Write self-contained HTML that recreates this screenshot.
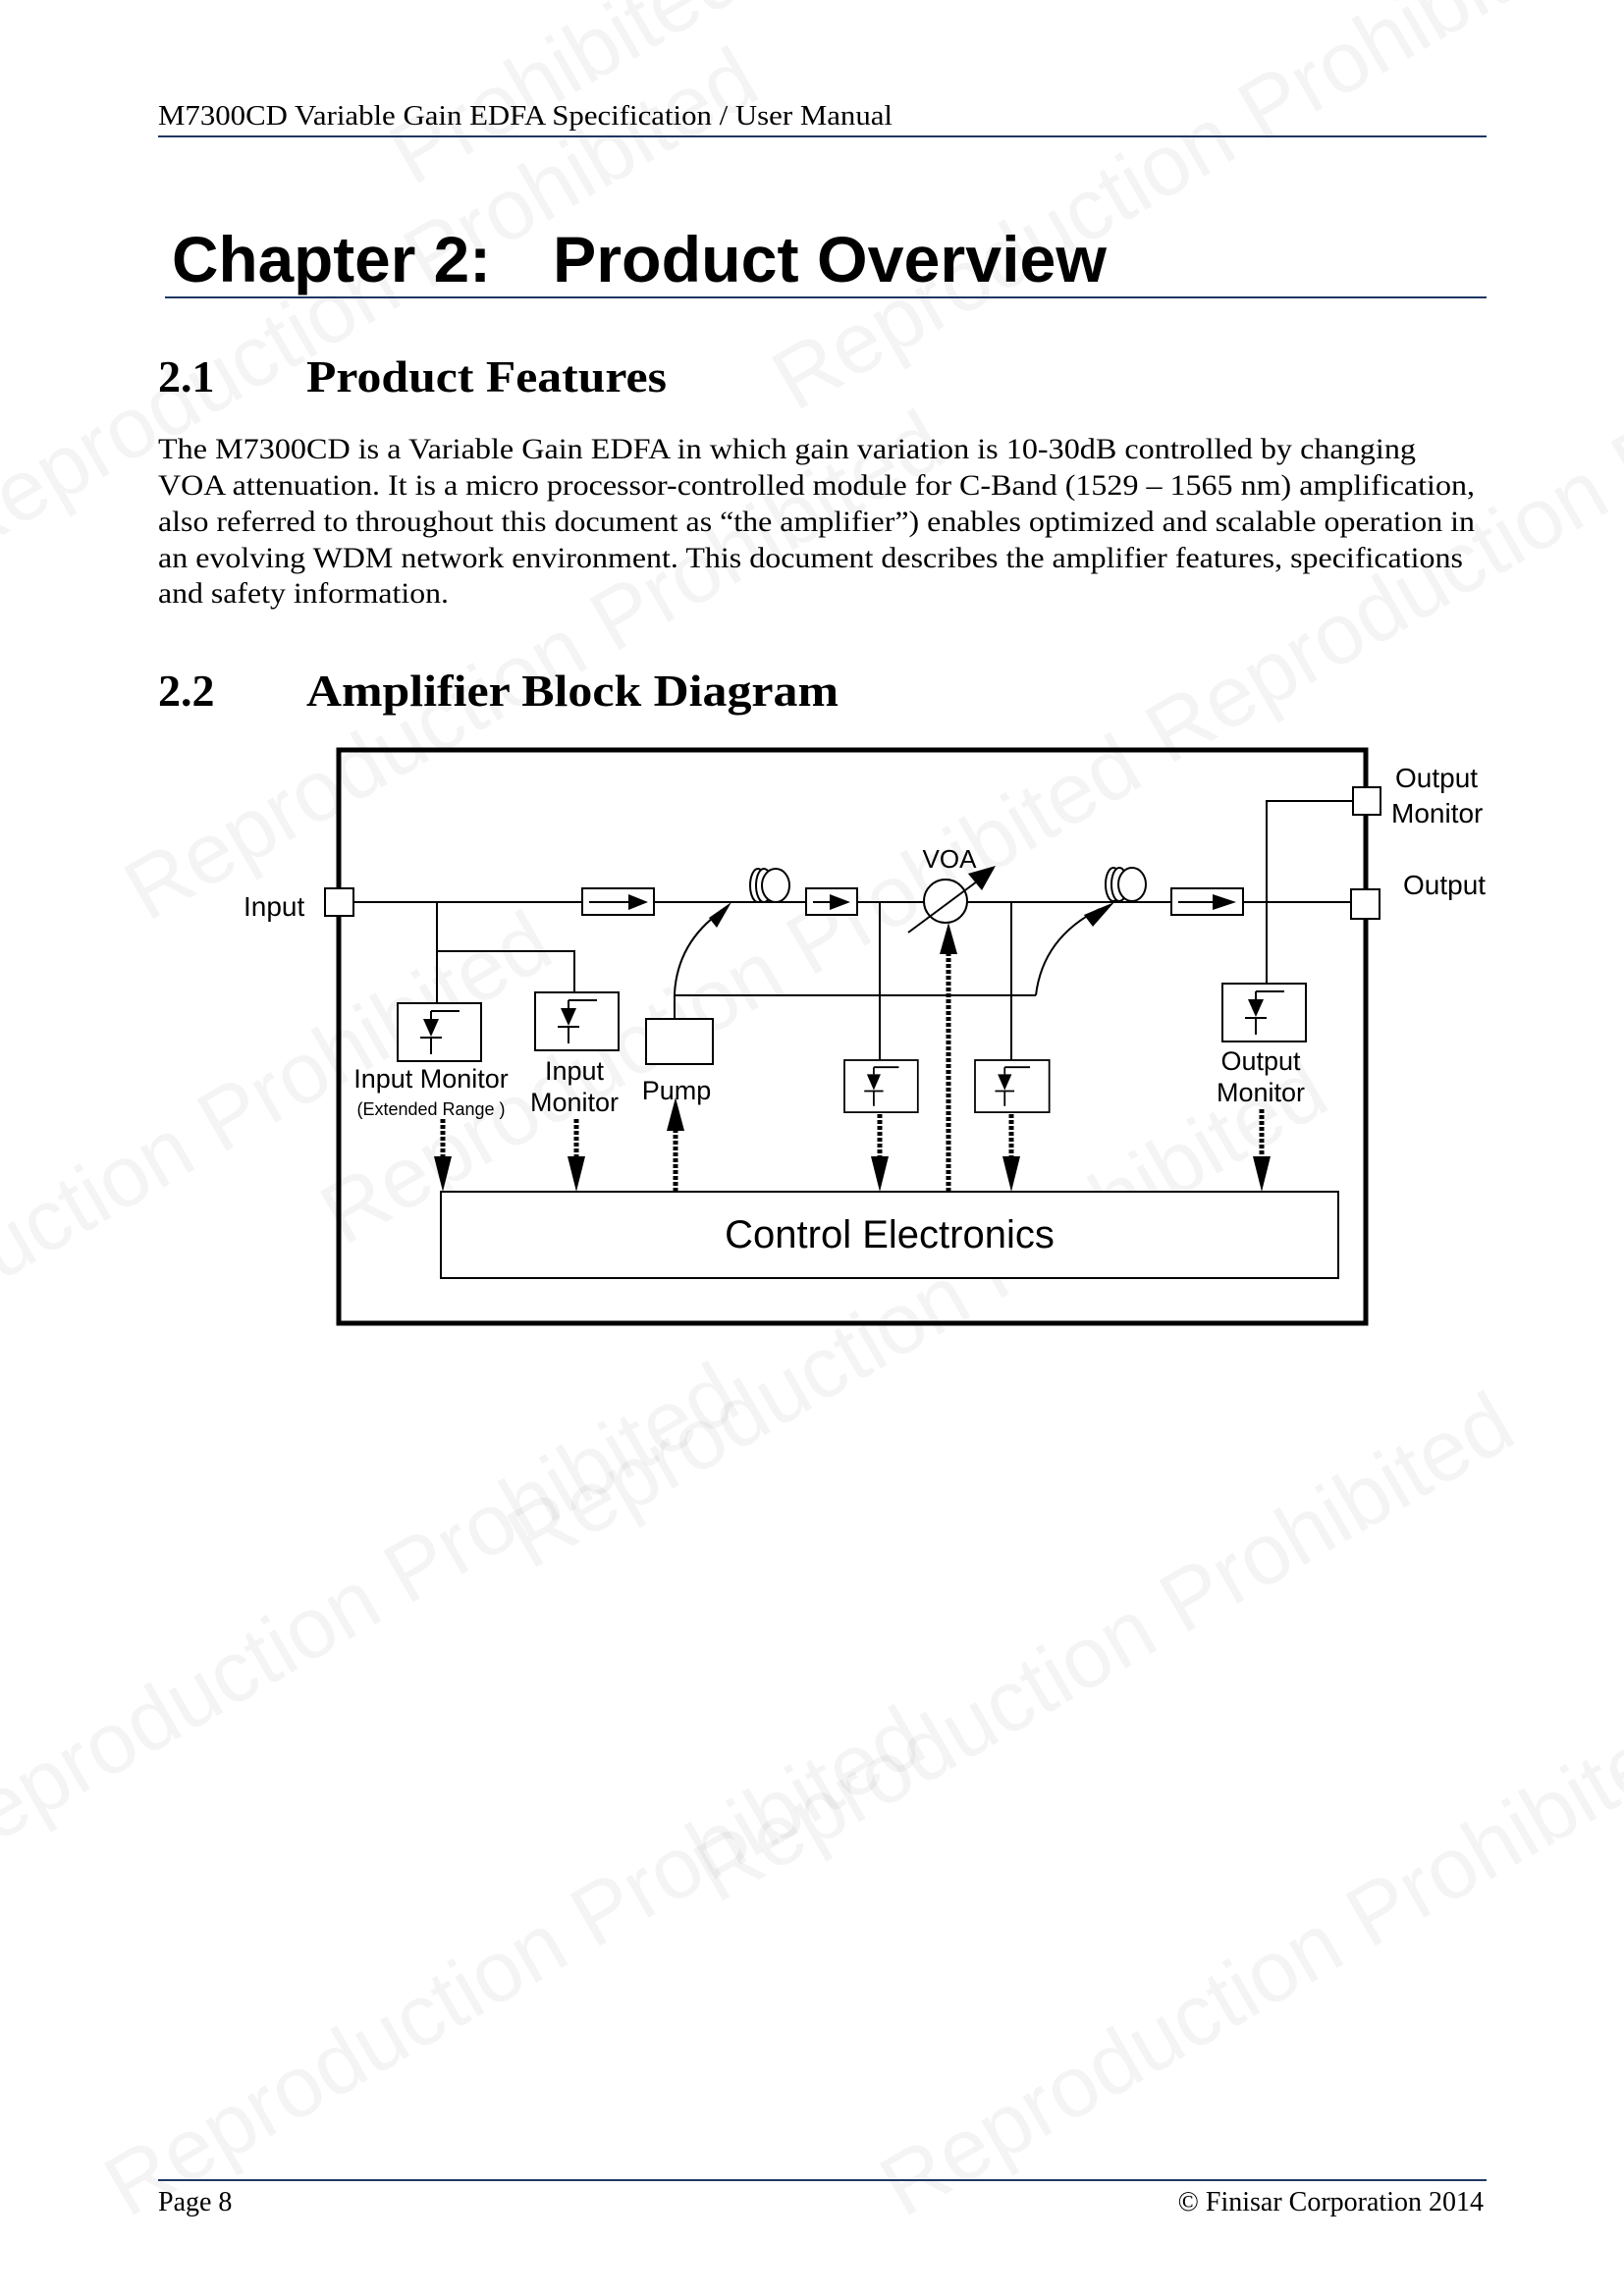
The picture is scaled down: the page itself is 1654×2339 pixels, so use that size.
<!DOCTYPE html>
<html><head><meta charset="utf-8"><style>
html,body{margin:0;padding:0;background:#fff}
svg{display:block}
</style></head><body>
<svg width="1654" height="2339" viewBox="0 0 1654 2339" xmlns="http://www.w3.org/2000/svg">
<defs>
<g id="pd">
<rect x="0" y="0" width="85" height="59" fill="#fff" stroke="#000" stroke-width="2"/>
<line x1="34" y1="8" x2="63" y2="8" stroke="#000" stroke-width="2"/>
<line x1="34" y1="8" x2="34" y2="16" stroke="#000" stroke-width="2"/>
<polygon points="26,16 42,16 34,34" fill="#000"/>
<line x1="23" y1="35" x2="45" y2="35" stroke="#000" stroke-width="2"/>
<line x1="34" y1="35" x2="34" y2="52" stroke="#000" stroke-width="2"/>
</g>
</defs>
<!-- watermarks -->
<g font-family="Liberation Sans, sans-serif" font-size="88" fill="#000" fill-opacity="0.045">
<text transform="translate(810,420) rotate(-30)">Reproduction Prohibited</text>
<text transform="translate(1190,780) rotate(-30)">Reproduction Prohibited</text>
<text transform="translate(150,940) rotate(-30)">Reproduction Prohibited</text>
<text transform="translate(-40,570) rotate(-30)">Reproduction Prohibited</text>
<text transform="translate(350,1270) rotate(-30)">Reproduction Prohibited</text>
<text transform="translate(-250,1450) rotate(-30)">Reproduction Prohibited</text>
<text transform="translate(540,1600) rotate(-30)">Reproduction Prohibited</text>
<text transform="translate(-60,1910) rotate(-30)">Reproduction Prohibited</text>
<text transform="translate(730,1940) rotate(-30)">Reproduction Prohibited</text>
<text transform="translate(130,2260) rotate(-30)">Reproduction Prohibited</text>
<text transform="translate(920,2260) rotate(-30)">Reproduction Prohibited</text>
<text transform="translate(420,190) rotate(-30)">Prohibited</text>
</g>
<!-- header -->
<text x="161" y="127" font-family="Liberation Serif, serif" font-size="28" textLength="748" lengthAdjust="spacingAndGlyphs">M7300CD Variable Gain EDFA Specification / User Manual</text>
<line x1="161" y1="139" x2="1514" y2="139" stroke="#1f3864" stroke-width="2"/>
<text x="175" y="287" font-family="Liberation Sans, sans-serif" font-weight="bold" font-size="66" textLength="325" lengthAdjust="spacingAndGlyphs">Chapter 2:</text>
<text x="563" y="287" font-family="Liberation Sans, sans-serif" font-weight="bold" font-size="66" textLength="564" lengthAdjust="spacingAndGlyphs">Product Overview</text>
<line x1="168" y1="303" x2="1514" y2="303" stroke="#1f3864" stroke-width="2"/>
<g font-family="Liberation Serif, serif" font-weight="bold" font-size="46">
<text x="161" y="399">2.1</text>
<text x="312" y="399" textLength="367" lengthAdjust="spacingAndGlyphs">Product Features</text>
<text x="161" y="719">2.2</text>
<text x="312" y="719" textLength="542" lengthAdjust="spacingAndGlyphs">Amplifier Block Diagram</text>
</g>
<g font-family="Liberation Serif, serif" font-size="30">
<text x="161" y="467" textLength="1281" lengthAdjust="spacingAndGlyphs">The M7300CD is a Variable Gain EDFA in which gain variation is 10-30dB controlled by changing</text>
<text x="161" y="504" textLength="1341" lengthAdjust="spacingAndGlyphs">VOA attenuation. It is a micro processor-controlled module for C-Band (1529 – 1565 nm) amplification,</text>
<text x="161" y="541" textLength="1341" lengthAdjust="spacingAndGlyphs">also referred to throughout this document as “the amplifier”) enables optimized and scalable operation in</text>
<text x="161" y="578" textLength="1329" lengthAdjust="spacingAndGlyphs">an evolving WDM network environment. This document describes the amplifier features, specifications</text>
<text x="161" y="614" textLength="296" lengthAdjust="spacingAndGlyphs">and safety information.</text>
</g>
<!-- diagram -->
<rect x="345" y="764" width="1046" height="584" fill="none" stroke="#000" stroke-width="5"/>
<g stroke="#000" stroke-width="2" fill="none">
<line x1="360" y1="919" x2="1376" y2="919"/>
<polyline points="1378,816 1290,816 1290,1002"/>
<line x1="445" y1="919" x2="445" y2="1022"/>
<polyline points="445,969 585,969 585,1011"/>
<line x1="896" y1="919" x2="896" y2="1080"/>
<line x1="1030" y1="919" x2="1030" y2="1080"/>
<line x1="687" y1="1014" x2="1055" y2="1014"/>
<path d="M687,1038 L687,1012 Q690,960 735,928"/>
<path d="M1055,1014 Q1062,955 1120,926"/>
<rect x="449" y="1214" width="914" height="88" fill="#fff"/>
</g>
<polygon points="722,935 745,919 730,945" fill="#000"/>
<polygon points="1104,932 1135,919 1113,944" fill="#000"/>
<!-- ports -->
<g fill="#fff" stroke="#000" stroke-width="2">
<rect x="331" y="905" width="29" height="28"/>
<rect x="1376" y="906" width="29" height="30"/>
<rect x="1378" y="802" width="28" height="28"/>
<rect x="593" y="905" width="73" height="27"/>
<rect x="821" y="905" width="52" height="27"/>
<rect x="1193" y="905" width="73" height="27"/>
<rect x="658" y="1038" width="68" height="46"/>
<ellipse cx="772" cy="902" rx="8" ry="17"/>
<ellipse cx="778" cy="902" rx="8" ry="17"/>
<ellipse cx="790" cy="902" rx="14" ry="17"/>
<ellipse cx="1134" cy="901" rx="8" ry="17"/>
<ellipse cx="1140" cy="901" rx="8" ry="17"/>
<ellipse cx="1153" cy="901" rx="14" ry="17"/>
<circle cx="963" cy="918" r="22"/>
</g>
<g stroke="#000" stroke-width="2">
<line x1="600" y1="919" x2="640" y2="919"/>
<line x1="828" y1="919" x2="845" y2="919"/>
<line x1="1200" y1="919" x2="1235" y2="919"/>
<line x1="925" y1="950" x2="995" y2="898"/>
</g>
<polygon points="640,911 660,919 640,927" fill="#000"/>
<polygon points="845,911 866,919 845,927" fill="#000"/>
<polygon points="1235,911 1259,919 1235,927" fill="#000"/>
<polygon points="986,890 1014,882 1000,907" fill="#000"/>
<!-- photodiodes -->
<use href="#pd" x="405" y="1022"/>
<use href="#pd" x="545" y="1011"/>
<use href="#pd" x="860" y="1080" transform="translate(860,1080) scale(0.88,0.9) translate(-860,-1080)"/>
<use href="#pd" x="993" y="1080" transform="translate(993,1080) scale(0.89,0.9) translate(-993,-1080)"/>
<use href="#pd" x="1245" y="1002"/>
<!-- dashed arrows -->
<g stroke="#000" stroke-width="5" stroke-dasharray="4,2">
<line x1="451" y1="1140" x2="451" y2="1180"/>
<line x1="587" y1="1140" x2="587" y2="1180"/>
<line x1="688" y1="1214" x2="688" y2="1150"/>
<line x1="896" y1="1135" x2="896" y2="1180"/>
<line x1="966" y1="1214" x2="966" y2="970"/>
<line x1="1030" y1="1135" x2="1030" y2="1180"/>
<line x1="1285" y1="1130" x2="1285" y2="1180"/>
</g>
<g fill="#000">
<polygon points="442,1178 460,1178 451,1214"/>
<polygon points="578,1178 596,1178 587,1214"/>
<polygon points="679,1152 697,1152 688,1118"/>
<polygon points="887,1178 905,1178 896,1214"/>
<polygon points="957,972 975,972 966,940"/>
<polygon points="1021,1178 1039,1178 1030,1214"/>
<polygon points="1276,1178 1294,1178 1285,1214"/>
</g>
<!-- labels -->
<g font-family="Liberation Sans, sans-serif" font-size="28" fill="#000">
<text x="248" y="933">Input</text>
<text x="1421" y="802">Output</text>
<text x="1417" y="838">Monitor</text>
<text x="1429" y="911">Output</text>
<text x="967" y="884" text-anchor="middle" font-size="26">VOA</text>
<text x="439" y="1108" text-anchor="middle" font-size="27">Input Monitor</text>
<text x="439" y="1136" text-anchor="middle" font-size="18">(Extended Range  )</text>
<text x="585" y="1100" text-anchor="middle" font-size="27">Input</text>
<text x="585" y="1132" text-anchor="middle" font-size="27">Monitor</text>
<text x="689" y="1120" text-anchor="middle" font-size="27">Pump</text>
<text x="1284" y="1090" text-anchor="middle" font-size="27">Output</text>
<text x="1284" y="1122" text-anchor="middle" font-size="27">Monitor</text>
<text x="906" y="1271" text-anchor="middle" font-size="40">Control Electronics</text>
</g>
<!-- footer -->
<line x1="161" y1="2221" x2="1514" y2="2221" stroke="#1f3864" stroke-width="2"/>
<text x="161" y="2252" font-family="Liberation Serif, serif" font-size="28">Page 8</text>
<text x="1511" y="2252" text-anchor="end" font-family="Liberation Serif, serif" font-size="28">© Finisar Corporation 2014</text>
</svg>
</body></html>
